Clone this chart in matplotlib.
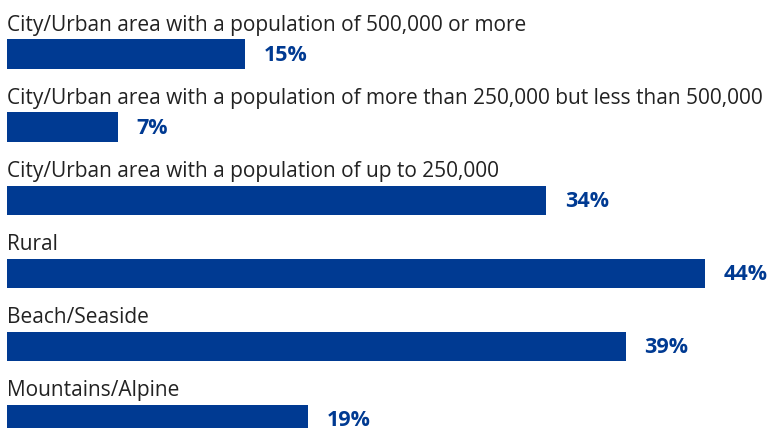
import matplotlib
matplotlib.use("Agg")
from matplotlib import pyplot as plt

# survey data
categories = [
    "City/Urban area with a population of 500,000 or more",
    "City/Urban area with a population of more than 250,000 but less than 500,000",
    "City/Urban area with a population of up to 250,000",
    "Rural",
    "Beach/Seaside",
    "Mountains/Alpine",
]
values = [15, 7, 34, 44, 39, 19]

bar_color = "#003A92"

plt.rcParams['font.family'] = ['Open Sans', 'DejaVu Sans']

fig = plt.figure(figsize=(7.71, 4.28), dpi=100)
ax = fig.add_axes([0, 0, 1, 1])

# pixel-ish scale: 73 px between bars, ~15.86 px per percent
ypos = list(range(len(values)))
ax.barh(ypos, values, height=0.4, color=bar_color, left=0)

for y, v, name in zip(ypos, values, categories):
    ax.text(0, y - 0.32, name, fontsize=15, color="#222222", va="baseline", ha="left")
    ax.annotate(f"{v}%", xy=(v, y), xytext=(13.5, -5), textcoords="offset points",
                fontsize=15.5, fontweight="bold", color=bar_color, va="baseline", ha="left")

ax.set_xlim(-0.44, 48.17)
ax.set_ylim(5.12, -0.74)
ax.axis("off")

fig.savefig("out.png", dpi=100)
